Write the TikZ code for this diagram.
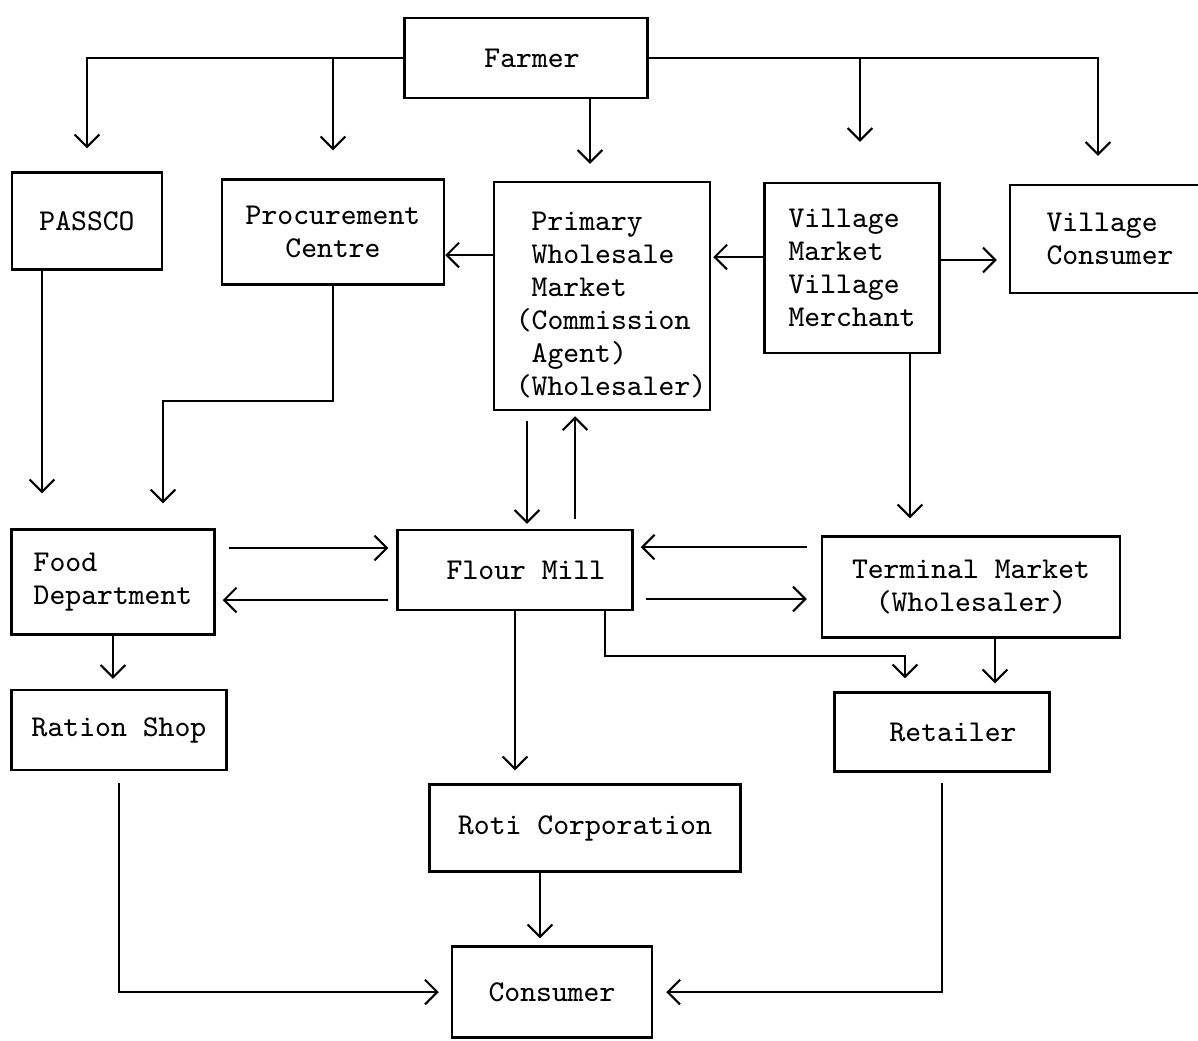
\documentclass[tikz,border=0pt]{standalone}
\usepackage{fontspec}
\usepackage{tikz}
\usetikzlibrary{arrows.meta}

\begin{document}
\begin{tikzpicture}[
    x=0.1mm, y=-0.1mm,
    txt/.style={font=\ttfamily\fontsize{8.6}{9.4}\selectfont},
    box/.style={draw, rectangle, line width=0.7pt, inner sep=2pt, txt},
    arrow/.style={->, >={Straight Barb[length=3.5pt, width=7pt]}, line width=0.6pt}
]
\clip (0,0) rectangle (1198,1040);

\node[box, minimum width=24.3mm, minimum height=8mm] (farmer) at (526,58) {\hspace*{1.2mm}Farmer};
\node[box, minimum width=15mm, minimum height=9.7mm] (passco) at (87,221) {PASSCO};
\node[box, align=center, minimum width=22.2mm, minimum height=10.5mm] (proc) at (333,232) {Procurement\\Centre};
\node[box, minimum width=21.6mm, minimum height=22.8mm,
    label={[txt, align=left, xshift=1.7mm, yshift=-0.9mm]center:{Primary\\Wholesale\\Market\\\llap{(}Commission\\Agent)\\\llap{(}Wholesaler)}}]
    (primary) at (602,296) {};
\node[box, align=left, minimum width=17.5mm, minimum height=17mm] (vmkt) at (852,268) {Village\\Market\\Village\\Merchant};
\node[box, align=left, minimum width=20mm, minimum height=10.8mm] (vcons) at (1110,239) {Village\\Consumer};

\node[box, align=left, minimum width=20.3mm, minimum height=10.5mm] (food) at (113,582) {Food\\Department};
\node[box, minimum width=23.5mm, minimum height=8mm] (mill) at (515,570) {\hspace*{2.2mm}Flour Mill};
\node[box, align=center, minimum width=29.8mm, minimum height=10.1mm] (term) at (971,587) {Terminal Market\\(Wholesaler)};
\node[box, minimum width=21.5mm, minimum height=8mm] (ration) at (119,730) {Ration Shop};
\node[box, minimum width=21.5mm, minimum height=7.9mm] (retail) at (942,732) {\hspace*{2.2mm}Retailer};
\node[box, minimum width=31.1mm, minimum height=8.7mm] (roti) at (585,828) {Roti Corporation};
\node[box, minimum width=20mm, minimum height=9.1mm] (cons) at (552,992) {Consumer};

\coordinate (fa) at ([xshift=-1.2mm]primary.north);
\coordinate (fb) at ([xshift=-1.2mm]vcons.north);
\coordinate (fc) at ([xshift=0.8mm]vmkt.north);
\coordinate (pa) at ([yshift=-2.3mm]proc.east);
\coordinate (pb) at ([yshift=1.1mm]vmkt.west);
\coordinate (pc) at ([yshift=0.8mm]vmkt.east);
\coordinate (pd) at ([xshift=-4.5mm]passco.south);
\coordinate (fd) at ([xshift=5mm]food.north);
\coordinate (pe) at ([xshift=-7.5mm]primary.south);
\coordinate (pf) at ([xshift=-2.7mm]primary.south);
\coordinate (pg) at ([xshift=5.8mm]vmkt.south);
\coordinate (ph) at ([yshift=3.4mm]food.east);
\coordinate (pi) at ([yshift=-1.8mm]food.east);
\coordinate (pj) at ([yshift=4mm]term.west);
\coordinate (pk) at ([yshift=-1.2mm]term.west);
\coordinate (pl) at ([xshift=9mm]mill.south);
\coordinate (pm) at ([xshift=-3.7mm]retail.north);
\coordinate (pn) at ([xshift=2.4mm]term.south);
\coordinate (po) at ([xshift=-4.5mm]roti.south);

\draw[arrow, shorten >=2.3mm] (farmer.west) -| (passco.north);
\draw[arrow, shorten >=2.8mm] (farmer.west -| proc.north) -- (proc.north);
\draw[arrow, shorten >=1.7mm] (farmer.south -| fa) -- (fa);
\draw[arrow, shorten >=2.8mm] (farmer.east) -| (fb);
\draw[arrow, shorten >=4mm] (farmer.east -| fc) -- (fc);

\draw[arrow] (primary.west |- pa) -- (pa);
\draw[arrow, shorten >=0.2mm] (pb) -- (primary.east |- pb);
\draw[arrow, shorten >=1.2mm] (pc) -- (vcons.west |- pc);

\draw[arrow, shorten >=3.5mm] (pd) -- (pd |- food.north);
\draw[arrow, shorten >=2.5mm] (proc.south) -- ++(0,115) -| (fd);
\draw[arrow, shorten <=1mm, shorten >=0.5mm] (pe) -- (pe |- mill.north);
\draw[arrow, shorten <=1mm, shorten >=0.5mm] (pf |- mill.north) -- (pf);
\draw[arrow, shorten >=1.7mm] (pg) -- (pg |- term.north);

\draw[arrow, shorten <=1.3mm, shorten >=0.8mm] (ph) -- (mill.west |- ph);
\draw[arrow, shorten <=0.8mm, shorten >=0.7mm] (mill.west |- pi) -- (pi);
\draw[arrow, shorten <=1.4mm, shorten >=0.7mm] (pj) -- (mill.east |- pj);
\draw[arrow, shorten <=1.2mm, shorten >=1.4mm] (mill.east |- pk) -- (pk);

\draw[arrow, shorten >=1mm] (food.south) -- (food.south |- ration.north);
\draw[arrow, shorten >=1.3mm] (mill.south) -- (mill.south |- roti.north);
\draw[arrow, shorten >=1.3mm] (pl) -- ++(0,45) -| (pm);
\draw[arrow, shorten >=0.8mm] (pn) -- (pn |- retail.north);
\draw[arrow, shorten >=0.7mm] (po) -- (po |- cons.north);

\draw[arrow, shorten <=1.2mm, shorten >=1.2mm] (ration.south) |- (cons.west);
\draw[arrow, shorten <=1mm, shorten >=1.3mm] (retail.south) |- (cons.east);
\end{tikzpicture}
\end{document}
